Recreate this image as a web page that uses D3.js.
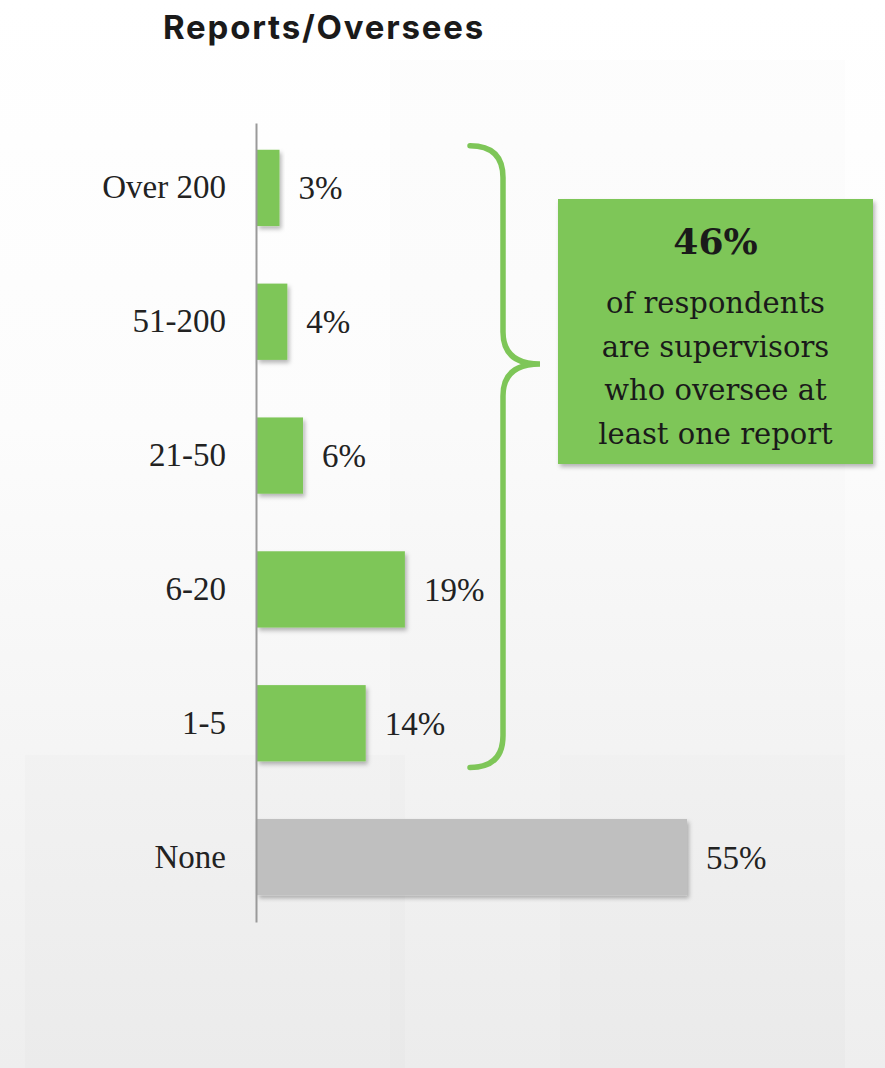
<!DOCTYPE html>
<html>
<head>
<meta charset="utf-8">
<script src="https://cdn.jsdelivr.net/npm/d3@7"></script>
<style>
  html, body { margin: 0; padding: 0; background: #fff; }
  svg { display: block; }
</style>
</head>
<body>
<div id="chart"></div>
<script>
// Share of respondents by number of people they oversee
const categories = ["Over 200", "51-200", "21-50", "6-20", "1-5", "None"];
const values = [3, 4, 6, 19, 14, 55];
const valueLabels = ["3%", "4%", "6%", "19%", "14%", "55%"];
const supervisorGroup = ["Over 200", "51-200", "21-50", "6-20", "1-5"];
const calloutValue = "46%";
const calloutLines = ["of respondents", "are supervisors", "who oversee at", "least one report"];
const title = "Reports/Oversees";

const W = 885, H = 1068;
const green = "#7ec658", grey = "#bfbfbf";

const svg = d3.select("#chart").append("svg")
  .attr("width", W).attr("height", H);

const defs = svg.append("defs");
const bg = defs.append("linearGradient").attr("id", "bg")
  .attr("x1", 0).attr("y1", 0).attr("x2", 0).attr("y2", 1);
bg.append("stop").attr("offset", "0%").attr("stop-color", "#ffffff");
bg.append("stop").attr("offset", "40%").attr("stop-color", "#fcfcfc");
bg.append("stop").attr("offset", "100%").attr("stop-color", "#eeeeee");

const shadow = defs.append("filter").attr("id", "shadow")
  .attr("x", "-10%").attr("y", "-10%").attr("width", "130%").attr("height", "140%");
shadow.append("feDropShadow").attr("dx", 2).attr("dy", 3)
  .attr("stdDeviation", 2.2).attr("flood-color", "#000").attr("flood-opacity", 0.28);

// backdrop
svg.append("rect").attr("width", W).attr("height", H).attr("fill", "url(#bg)");
// faint panels
const panels = [
  [25, 755, 380, 313, 0.012],
  [390, 60, 455, 1008, 0.007],
  [560, 755, 285, 313, 0.006]
];
svg.selectAll("rect.panel").data(panels).join("rect")
  .attr("class", "panel")
  .attr("x", d => d[0]).attr("y", d => d[1])
  .attr("width", d => d[2]).attr("height", d => d[3])
  .attr("fill", "#000").attr("opacity", d => d[4]);

// title
svg.append("text")
  .attr("x", 163).attr("y", 39)
  .attr("font-family", "Inter, Roboto, sans-serif")
  .attr("font-weight", 700)
  .attr("font-size", 33)
  .attr("letter-spacing", 1.8)
  .attr("fill", "#1a1a1a")
  .text(title);

// scales
const x0 = 256;
const x = d3.scaleLinear().domain([0, 55]).range([x0, 687]);
const y = d3.scaleBand().domain(categories).range([123, 922]).paddingInner(0.43).paddingOuter(0.2);

const serif = "'Liberation Serif', 'DejaVu Serif', serif";

// bars
svg.selectAll("rect.bar").data(categories).join("rect")
  .attr("class", "bar")
  .attr("x", x0 + 1)
  .attr("y", d => y(d))
  .attr("width", (d, i) => x(values[i]) - x0 - 1)
  .attr("height", y.bandwidth())
  .attr("fill", d => supervisorGroup.includes(d) ? green : grey)
  .attr("filter", "url(#shadow)");

// category axis
const yAxis = d3.axisLeft(y).tickSize(0).tickPadding(30);
const ag = svg.append("g").attr("transform", `translate(${x0},0)`).call(yAxis);
ag.select(".domain").attr("stroke", "#9a9a9a").attr("stroke-width", 2);
ag.selectAll(".tick text")
  .attr("font-family", serif)
  .attr("font-size", 33)
  .attr("fill", "#222");

// value labels
svg.selectAll("text.val").data(categories).join("text")
  .attr("class", "val")
  .attr("x", (d, i) => x(values[i]) + 19)
  .attr("y", d => y(d) + y.bandwidth() / 2)
  .attr("dy", "0.35em")
  .attr("font-family", serif)
  .attr("font-size", 33)
  .attr("fill", "#222")
  .text((d, i) => valueLabels[i]);

// brace spanning the supervisor categories
const braceTop = y(supervisorGroup[0]) - 4;
const braceBottom = y(supervisorGroup[supervisorGroup.length - 1]) + y.bandwidth() + 6;
const bx0 = 470, bx1 = 503, tip = 540, r = 32;
const mid = 364;
const brace = d3.path();
brace.moveTo(bx0, braceTop);
brace.quadraticCurveTo(bx1, braceTop, bx1, braceTop + r);
brace.lineTo(bx1, mid - r);
brace.quadraticCurveTo(bx1, mid, tip, mid);
brace.quadraticCurveTo(bx1, mid, bx1, mid + r);
brace.lineTo(bx1, braceBottom - r);
brace.quadraticCurveTo(bx1, braceBottom, bx0, braceBottom);
svg.append("path").attr("d", brace.toString())
  .attr("fill", "none").attr("stroke", green)
  .attr("stroke-width", 5.5).attr("stroke-linecap", "round");

// callout
const box = { x: 558, y: 199, w: 315, h: 265 };
svg.append("rect")
  .attr("x", box.x).attr("y", box.y).attr("width", box.w).attr("height", box.h)
  .attr("fill", green).attr("filter", "url(#shadow)");
const cx = box.x + box.w / 2;
svg.append("text")
  .attr("x", cx).attr("y", 254)
  .attr("text-anchor", "middle")
  .attr("font-family", "'DejaVu Serif', serif")
  .attr("font-weight", 700)
  .attr("font-size", 36)
  .attr("fill", "#1a1a1a")
  .text(calloutValue);
svg.selectAll("text.call").data(calloutLines).join("text")
  .attr("class", "call")
  .attr("x", cx)
  .attr("y", (d, i) => 313 + i * 43.5)
  .attr("text-anchor", "middle")
  .attr("font-family", "'DejaVu Serif', serif")
  .attr("font-size", 29)
  .attr("fill", "#1a1a1a")
  .text(d => d);
</script>
</body>
</html>
